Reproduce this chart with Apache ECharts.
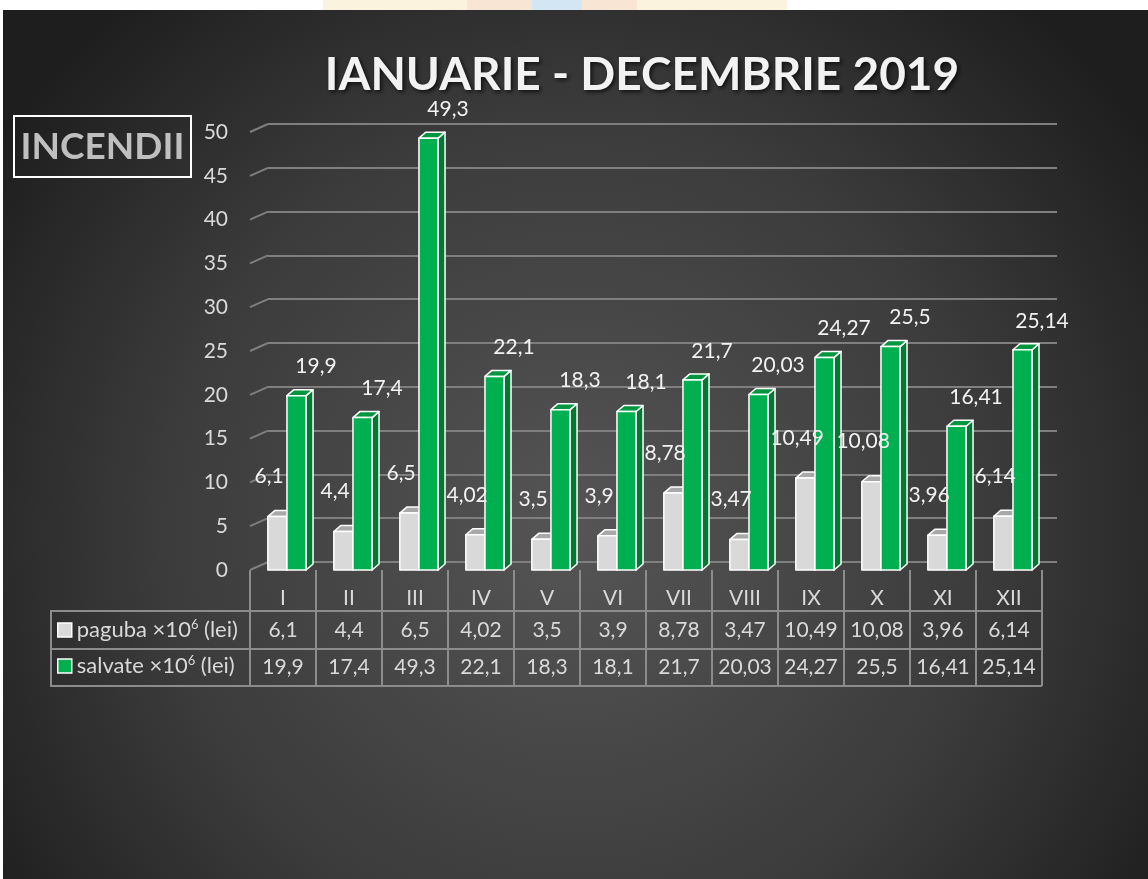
<!DOCTYPE html>
<html>
<head>
<meta charset="utf-8">
<script src="https://cdn.jsdelivr.net/npm/echarts@6/dist/echarts.min.js"></script>
<style>
html,body{margin:0;padding:0;background:#fff;}
#chart{width:1148px;height:879px;}
</style>
</head>
<body>
<div id="chart"></div>
<script>
// ---- data ----
const months = ['I','II','III','IV','V','VI','VII','VIII','IX','X','XI','XII'];
const paguba = [6.1, 4.4, 6.5, 4.02, 3.5, 3.9, 8.78, 3.47, 10.49, 10.08, 3.96, 6.14];
const salvate = [19.9, 17.4, 49.3, 22.1, 18.3, 18.1, 21.7, 20.03, 24.27, 25.5, 16.41, 25.14];
const yTicks = [0, 5, 10, 15, 20, 25, 30, 35, 40, 45, 50];
const seriesNames = ['paguba', 'salvate'];

const FONT = 'Lato, "Open Sans", sans-serif';
const TXT = '#d9d9d9';
const GRID_LINE = '#7f7f7f';
const TABLE_LINE = '#8c8c8c';
// perspective depth between front plane and back wall
const WALL_DX = 18, WALL_DY = 8;

const fmt = v => String(v).replace('.', ',');

function barRenderer(frontC, topC, sideC, xOff, labelDx, labelDy) {
  return function (params, api) {
    const i = api.value(0), v = api.value(1);
    const p = api.coord([i, v]);
    const b = api.coord([i, 0]);
    const cw = api.size([1, 0])[0];
    const w = cw * 0.29, dx = cw * 0.105, dy = 6;
    const x0 = p[0] + xOff * cw;
    const top = p[1], bot = b[1];
    const stroke = {stroke: '#ffffff', lineWidth: 1.5, lineJoin: 'round'};
    return {
      type: 'group',
      children: [
        {type: 'polygon', shape: {points: [[x0 + w, top], [x0 + w + dx, top - dy], [x0 + w + dx, bot - dy], [x0 + w, bot]]},
          style: Object.assign({fill: sideC}, stroke)},
        {type: 'polygon', shape: {points: [[x0, top], [x0 + dx, top - dy], [x0 + w + dx, top - dy], [x0 + w, top]]},
          style: Object.assign({fill: topC}, stroke)},
        {type: 'rect', shape: {x: x0, y: top, width: w, height: bot - top},
          style: Object.assign({fill: frontC}, stroke)},
        {type: 'text', z2: 100, style: {text: fmt(v), x: p[0] + labelDx * cw, y: top + labelDy,
          fill: '#f2f2f2', font: '21px ' + FONT, align: 'center', verticalAlign: 'middle'}}
      ]
    };
  };
}

const chart = echarts.init(document.getElementById('chart'), null, {renderer: 'canvas'});

const option = {
  backgroundColor: '#ffffff',
  animation: false,
  textStyle: {fontFamily: FONT},
  title: {
    text: 'IANUARIE - DECEMBRIE 2019',
    left: 637, top: 47, textAlign: 'center',
    textStyle: {color: '#f2f2f2', fontSize: 46, fontWeight: 'bold', fontFamily: FONT,
      textShadowColor: 'rgba(0,0,0,0.7)', textShadowBlur: 4, textShadowOffsetX: 2, textShadowOffsetY: 2}
  },
  legend: {
    orient: 'vertical', left: 57, top: 618, padding: 0, itemWidth: 14, itemHeight: 14, itemGap: 13,
    icon: 'rect', data: seriesNames,
    itemStyle: {borderColor: '#ffffff', borderWidth: 1.5},
    textStyle: {color: TXT, fontSize: 22, fontFamily: FONT,
      rich: {
        t: {color: TXT, fontSize: 22, fontFamily: FONT, lineHeight: 24},
        s: {color: TXT, fontSize: 13, fontFamily: FONT, verticalAlign: 'top', lineHeight: 24}
      }},
    formatter: n => '{t|' + n + ' ×10}{s|6}{t| (lei)}'
  },
  graphic: [
    {type: 'rect', z: -100, silent: true, shape: {x: 3, y: 10, width: 1145, height: 869},
      style: {fill: {type: 'radial', x: 0.5, y: 0.6, r: 0.8,
        colorStops: [{offset: 0, color: '#555555'}, {offset: 0.6, color: '#3b3b3b'}, {offset: 1, color: '#1e1e1e'}]}}},
    {type: 'rect', silent: true, shape: {x: 323, y: 0, width: 144, height: 10}, style: {fill: '#fbf3dd'}},
    {type: 'rect', silent: true, shape: {x: 467, y: 0, width: 65, height: 10}, style: {fill: '#f8e5d3'}},
    {type: 'rect', silent: true, shape: {x: 532, y: 0, width: 50, height: 10}, style: {fill: '#d2e7f3'}},
    {type: 'rect', silent: true, shape: {x: 582, y: 0, width: 55, height: 10}, style: {fill: '#f8e5d3'}},
    {type: 'rect', silent: true, shape: {x: 637, y: 0, width: 150, height: 10}, style: {fill: '#fbf3dd'}},
    {type: 'rect', shape: {x: 14, y: 116, width: 177, height: 61},
      style: {fill: 'none', stroke: '#ffffff', lineWidth: 2}},
    {type: 'text', style: {text: 'INCENDII', x: 102.5, y: 147, align: 'center', verticalAlign: 'middle',
      fill: '#bfbfbf', font: 'bold 37px ' + FONT}},
    // data table frame
    {type: 'line', shape: {x1: 51, y1: 611, x2: 1042, y2: 611}, style: {stroke: TABLE_LINE, lineWidth: 2}},
    {type: 'line', shape: {x1: 51, y1: 649, x2: 1042, y2: 649}, style: {stroke: TABLE_LINE, lineWidth: 2}},
    {type: 'line', shape: {x1: 51, y1: 686, x2: 1042, y2: 686}, style: {stroke: TABLE_LINE, lineWidth: 2}},
    {type: 'line', shape: {x1: 51, y1: 610, x2: 51, y2: 687}, style: {stroke: TABLE_LINE, lineWidth: 2}}
  ],
  grid: [
    {left: 250, top: 132, width: 792, height: 438},
    {left: 250 + WALL_DX, top: 132 - WALL_DY, width: 789, height: 438}
  ],
  xAxis: [
    {gridIndex: 0, type: 'category', data: months, position: 'bottom',
      axisLine: {show: false},
      axisTick: {show: true, interval: 0, length: 116, lineStyle: {color: TABLE_LINE, width: 2}},
      axisLabel: {color: TXT, fontSize: 21, margin: 18, fontFamily: FONT}},
    {gridIndex: 0, type: 'category', data: paguba.map(fmt), position: 'bottom',
      axisLine: {show: false}, axisTick: {show: false},
      axisLabel: {color: TXT, fontSize: 21, margin: 50, fontFamily: FONT, interval: 0}},
    {gridIndex: 0, type: 'category', data: salvate.map(fmt), position: 'bottom',
      axisLine: {show: false}, axisTick: {show: false},
      axisLabel: {color: TXT, fontSize: 21, margin: 87, fontFamily: FONT, interval: 0}},
    {gridIndex: 1, type: 'value', min: 0, max: 1, show: false}
  ],
  yAxis: [
    {gridIndex: 0, type: 'value', min: 0, max: 50, interval: 5,
      axisLine: {show: false}, axisTick: {show: false}, splitLine: {show: false},
      axisLabel: {color: TXT, fontSize: 21, margin: 22, fontFamily: FONT, padding: [10, 0, 0, 0]}},
    {gridIndex: 1, type: 'value', min: 0, max: 50, interval: 5,
      axisLine: {show: false}, axisTick: {show: false}, axisLabel: {show: false},
      splitLine: {show: true, lineStyle: {color: GRID_LINE, width: 2}}}
  ],
  series: [
    {
      type: 'custom', name: 'wall', xAxisIndex: 3, yAxisIndex: 1, silent: true, z: 1,
      data: yTicks.map(t => [0, t]),
      renderItem: function (params, api) {
        const p = api.coord([0, api.value(1)]);
        return {type: 'line', shape: {x1: p[0], y1: p[1], x2: p[0] - WALL_DX, y2: p[1] + WALL_DY},
          style: {stroke: GRID_LINE, lineWidth: 2}};
      }
    },
    {
      type: 'custom', name: 'paguba', xAxisIndex: 0, yAxisIndex: 0,
      itemStyle: {color: '#d9d9d9'},
      encode: {x: 0, y: 1},
      data: paguba.map((v, i) => [i, v]),
      renderItem: barRenderer('#d9d9d9', '#a8a8a8', '#b0b0b0', -0.23, -0.21, -40)
    },
    {
      type: 'custom', name: 'salvate', xAxisIndex: 0, yAxisIndex: 0,
      itemStyle: {color: '#00b050'},
      encode: {x: 0, y: 1},
      data: salvate.map((v, i) => [i, v]),
      renderItem: barRenderer('#00b050', '#00953f', '#007a33', 0.06, 0.5, -29)
    }
  ]
};
chart.setOption(option);
</script>
</body>
</html>
